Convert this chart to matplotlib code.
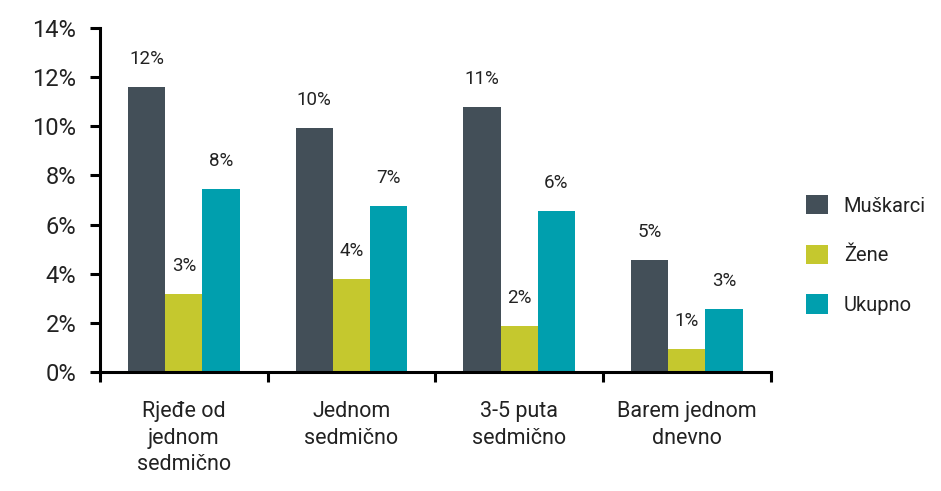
import matplotlib
matplotlib.use("Agg")
import matplotlib.pyplot as plt
import numpy as np

plt.rcParams['font.family'] = ['Roboto', 'DejaVu Sans']

# podaci
categories = ['Rjeđe od\njednom\nsedmično', 'Jednom\nsedmično', '3-5 puta\nsedmično', 'Barem jednom\ndnevno']
series_names = ['Muškarci', 'Žene', 'Ukupno']
muskarci = [11.6, 9.93, 10.8, 4.56]
zene = [3.17, 3.79, 1.87, 0.94]
ukupno = [7.45, 6.76, 6.55, 2.56]
labels_muskarci = ['12%', '10%', '11%', '5%']
labels_zene = ['3%', '4%', '2%', '1%']
labels_ukupno = ['8%', '7%', '6%', '3%']

colors = ['#434F58', '#C5C82E', '#009FAE']

fig = plt.figure(figsize=(9.41, 4.91), dpi=100)
ax = fig.add_axes([0.1063, 0.2424, 0.7127, 0.7006])

x = np.arange(len(categories)) + 0.5
w = 0.222
all_series = [muskarci, zene, ukupno]
all_labels = [labels_muskarci, labels_zene, labels_ukupno]
for i, (vals, labs) in enumerate(zip(all_series, all_labels)):
    bars = ax.bar(x + (i - 1) * w, vals, width=w, color=colors[i], label=series_names[i])
    for b, lab in zip(bars, labs):
        ax.annotate(lab, (b.get_x() + b.get_width() / 2, b.get_height()),
                    xytext=(0, 20), textcoords='offset points', ha='center', va='center',
                    fontsize=13.5, color='#222222')

ax.set_xlim(0, 4)
ax.set_ylim(0, 14)
ax.set_yticks(range(0, 15, 2))
ax.set_yticklabels([f'{v}%' for v in range(0, 15, 2)], fontsize=17, color='#222222')
ax.set_xticks(range(5))
ax.set_xticklabels([])
ax.set_xticks(x, minor=True)
ax.set_xticklabels(categories, minor=True, fontsize=15.5, color='#222222', linespacing=1.35, va='top')
ax.tick_params(axis='x', which='minor', length=0, pad=21)
ax.tick_params(axis='x', which='major', length=7, width=2.2, direction='out')
ax.tick_params(axis='y', length=7, width=2.2, direction='out', pad=10)

for s in ['top', 'right']:
    ax.spines[s].set_visible(False)
for s in ['left', 'bottom']:
    ax.spines[s].set_linewidth(2.2)

leg = ax.legend(loc='center left', bbox_to_anchor=(1.025, 0.34), frameon=False,
                fontsize=14.5, handlelength=1.1, handleheight=1.1, labelspacing=1.45,
                handletextpad=0.8)
for t in leg.get_texts():
    t.set_color('#222222')

fig.savefig('out.png', dpi=100)
